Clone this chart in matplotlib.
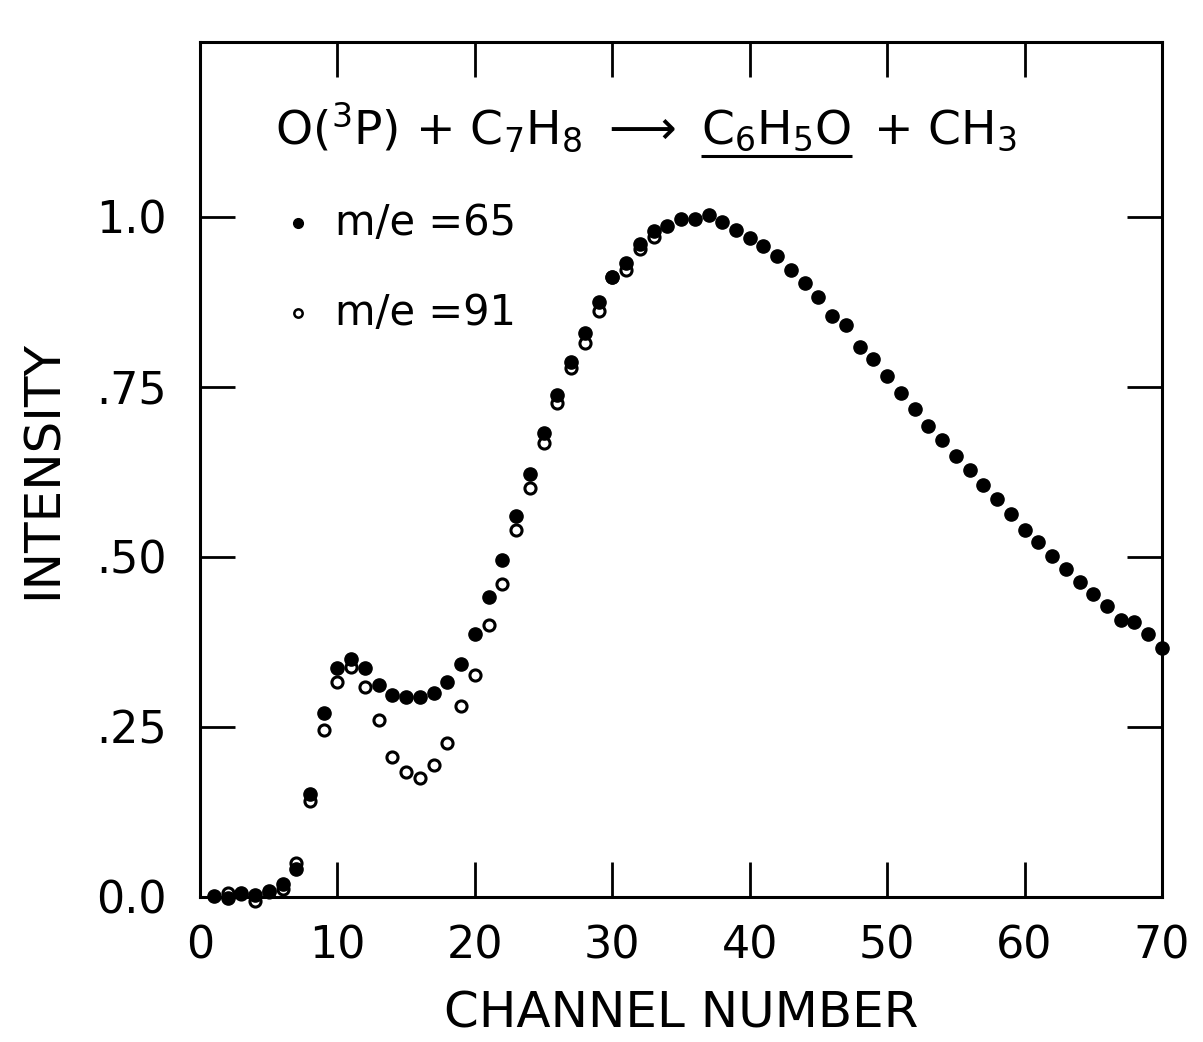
import numpy as np
import matplotlib
matplotlib.use("Agg")
import matplotlib.pyplot as plt
from matplotlib.transforms import IdentityTransform

# ===== DATA =====
channels = np.arange(1, 71)

# m/e = 65, filled circles
mass65 = [
    0.001, -0.002, 0.006, 0.003, 0.009, 0.019, 0.041, 0.151, 0.270, 0.337,
    0.350, 0.337, 0.312, 0.297, 0.294, 0.294, 0.300, 0.316, 0.343, 0.387,
    0.441, 0.496, 0.560, 0.622, 0.682, 0.738, 0.787, 0.829, 0.874, 0.912,
    0.932, 0.960, 0.979, 0.987, 0.997, 0.997, 1.003, 0.993, 0.980, 0.969,
    0.957, 0.943, 0.922, 0.903, 0.882, 0.854, 0.841, 0.809, 0.791, 0.766,
    0.741, 0.718, 0.693, 0.672, 0.649, 0.628, 0.606, 0.585, 0.563, 0.540,
    0.522, 0.501, 0.482, 0.463, 0.446, 0.428, 0.407, 0.404, 0.386, 0.366,
]

# m/e = 91, open circles (only where visible)
ch91 = np.arange(2, 34)
mass91 = [
    0.006, 0.004, -0.006, 0.008, 0.012, 0.050, 0.141, 0.246, 0.316, 0.338,
    0.309, 0.260, 0.206, 0.184, 0.175, 0.194, 0.226, 0.281, 0.326, 0.400,
    0.460, 0.540, 0.601, 0.668, 0.726, 0.778, 0.815, 0.862, 0.912, 0.922,
    0.953, 0.971,
]

x_ticks = [0, 10, 20, 30, 40, 50, 60, 70]
y_ticks = [0.0, 0.25, 0.50, 0.75, 1.0]
y_tick_labels = ["0.0", ".25", ".50", ".75", "1.0"]

# ===== FIGURE =====
plt.rcParams['font.family'] = ['DejaVu Sans']
plt.rcParams['mathtext.default'] = 'regular'

fig = plt.figure(figsize=(12.03, 10.42), dpi=100)
ax = fig.add_axes([0.1663, 0.1392, 0.7996, 0.8205])

ax.plot(ch91, mass91, 'o', markersize=8, markerfacecolor='white',
        markeredgecolor='black', markeredgewidth=2.2, clip_on=False, zorder=3)
ax.plot(channels, mass65, 'o', markersize=9.5, color='black',
        clip_on=False, zorder=4)

ax.set_xlim(0, 70)
ax.set_ylim(0, 1.257)
ax.set_xticks(x_ticks)
ax.set_yticks(y_ticks)
ax.set_yticklabels(y_tick_labels)

for s in ax.spines.values():
    s.set_linewidth(2.2)
ax.tick_params(direction='in', length=25, width=2, top=True, right=True,
               labelsize=32)
ax.tick_params(axis='y', pad=24)
ax.tick_params(axis='x', pad=20)

ax.set_xlabel('CHANNEL NUMBER', fontsize=36, labelpad=16)
ax.set_ylabel('INTENSITY', fontsize=36, labelpad=21)

# reaction label, built in pieces so the product can be underlined
t1 = ax.text(0.078, 0.881, r'O($^3$P) + C$_7$H$_8$ $\longrightarrow$ ',
             transform=ax.transAxes, ha='left', va='baseline', fontsize=34)
fig.canvas.draw()
r = fig.canvas.get_renderer()
bb1 = t1.get_window_extent(r)
base_y = ax.transAxes.transform((0.078, 0.881))[1]
t2 = ax.text(bb1.x1 + 14, base_y, r'C$_6$H$_5$O', transform=IdentityTransform(),
             ha='left', va='baseline', fontsize=34)
bb2 = t2.get_window_extent(r)
ax.text(bb2.x1 + 6, base_y, r' + CH$_3$', transform=IdentityTransform(),
        ha='left', va='baseline', fontsize=34)
u0 = ax.transAxes.inverted().transform((bb2.x0, bb2.y0 - 2))
u1 = ax.transAxes.inverted().transform((bb2.x1, bb2.y0 - 2))
ax.plot([u0[0], u1[0]], [u0[1], u1[1]], color='black', linewidth=2.2,
        transform=ax.transAxes, solid_capstyle='butt')

# legend
ax.plot([0.102], [0.788], 'o', color='black', markersize=7, transform=ax.transAxes)
ax.text(0.140, 0.788, 'm/e =65', transform=ax.transAxes, ha='left',
        va='center', fontsize=30)
ax.plot([0.102], [0.683], 'o', markersize=6, markerfacecolor='white',
        markeredgecolor='black', markeredgewidth=1.8, transform=ax.transAxes)
ax.text(0.140, 0.683, 'm/e =91', transform=ax.transAxes, ha='left',
        va='center', fontsize=30)

fig.savefig('out.png', dpi=100)
